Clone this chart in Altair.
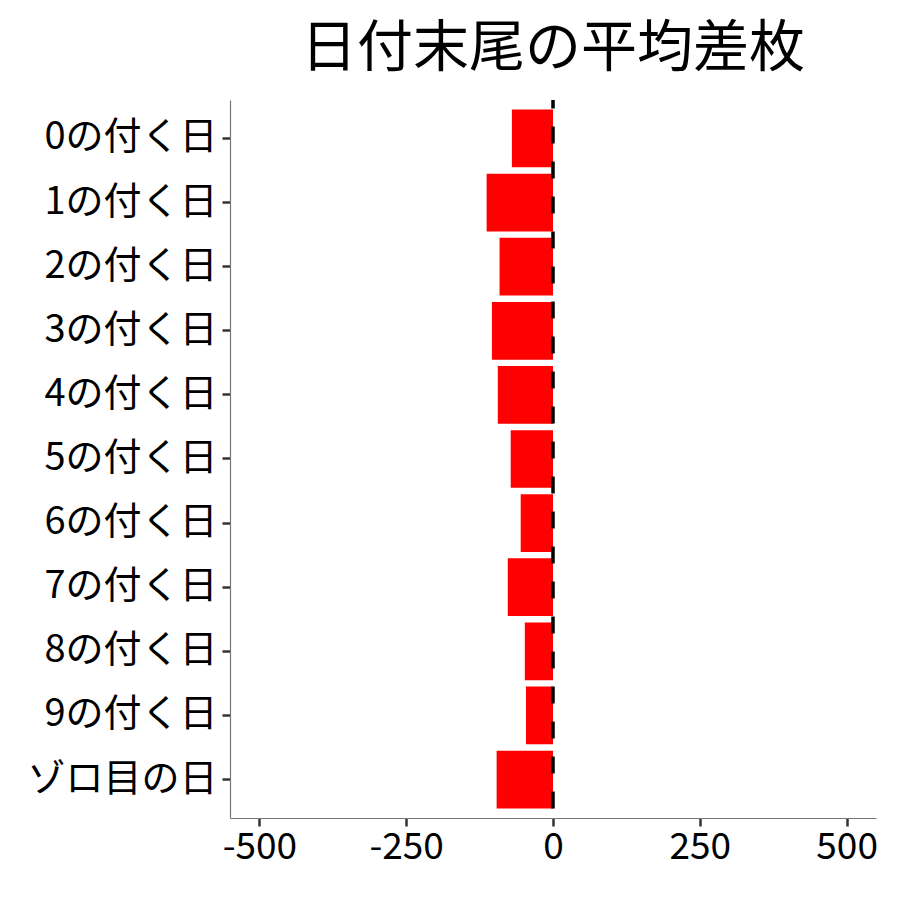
import altair as alt
import pandas as pd

categories = ["0の付く日", "1の付く日", "2の付く日", "3の付く日", "4の付く日",
              "5の付く日", "6の付く日", "7の付く日", "8の付く日", "9の付く日", "ゾロ目の日"]
values = [-70, -113, -91, -104, -94, -72, -55, -77, -48, -46, -96]
x_ticks = [-500, -250, 0, 250, 500]

df = pd.DataFrame({"cat": categories, "val": values})
FONT = "Noto Sans CJK JP"

bars = alt.Chart(df).mark_bar(color="#FF0000").encode(
    x=alt.X("val:Q", scale=alt.Scale(domain=[-550, 550], nice=False, zero=False),
            axis=alt.Axis(values=x_ticks, title=None, grid=False, labelFontSize=37,
                          labelFont=FONT, labelColor="black", domainColor="#777777",
                          domainWidth=1.2, tickColor="#333333", tickWidth=2.5, tickSize=8,
                          labelPadding=3, labelFlush=False,
                          labelExpr="datum.value < 0 ? '-' + abs(datum.value) : '' + datum.value")),
    y=alt.Y("cat:N", sort=categories,
            scale=alt.Scale(paddingInner=0.1, paddingOuter=0.15),
            axis=alt.Axis(title=None, labelFontSize=38, labelFont=FONT, labelColor="black",
                          labelLimit=400,
                          domainColor="#777777", domainWidth=1.2, tickColor="#333333",
                          tickWidth=2.5, tickSize=8, labelPadding=5)),
)

rule = alt.Chart(pd.DataFrame({"z": [0]})).mark_rule(
    color="black", strokeWidth=3.5, strokeDash=[17, 18], strokeDashOffset=8.5
).encode(x="z:Q")

chart = (bars + rule).properties(
    width=646, height=718,
    title=alt.TitleParams("日付末尾の平均差枚", font=FONT, fontSize=56, fontWeight="normal",
                          color="black", anchor="middle", frame="group", offset=20),
    autosize=alt.AutoSizeParams(type="none"),
    padding={"left": 222, "top": 92, "right": 16, "bottom": 74},
).configure_view(stroke=None)

chart.save("out.html", embed_options={"renderer": "svg", "actions": False})
